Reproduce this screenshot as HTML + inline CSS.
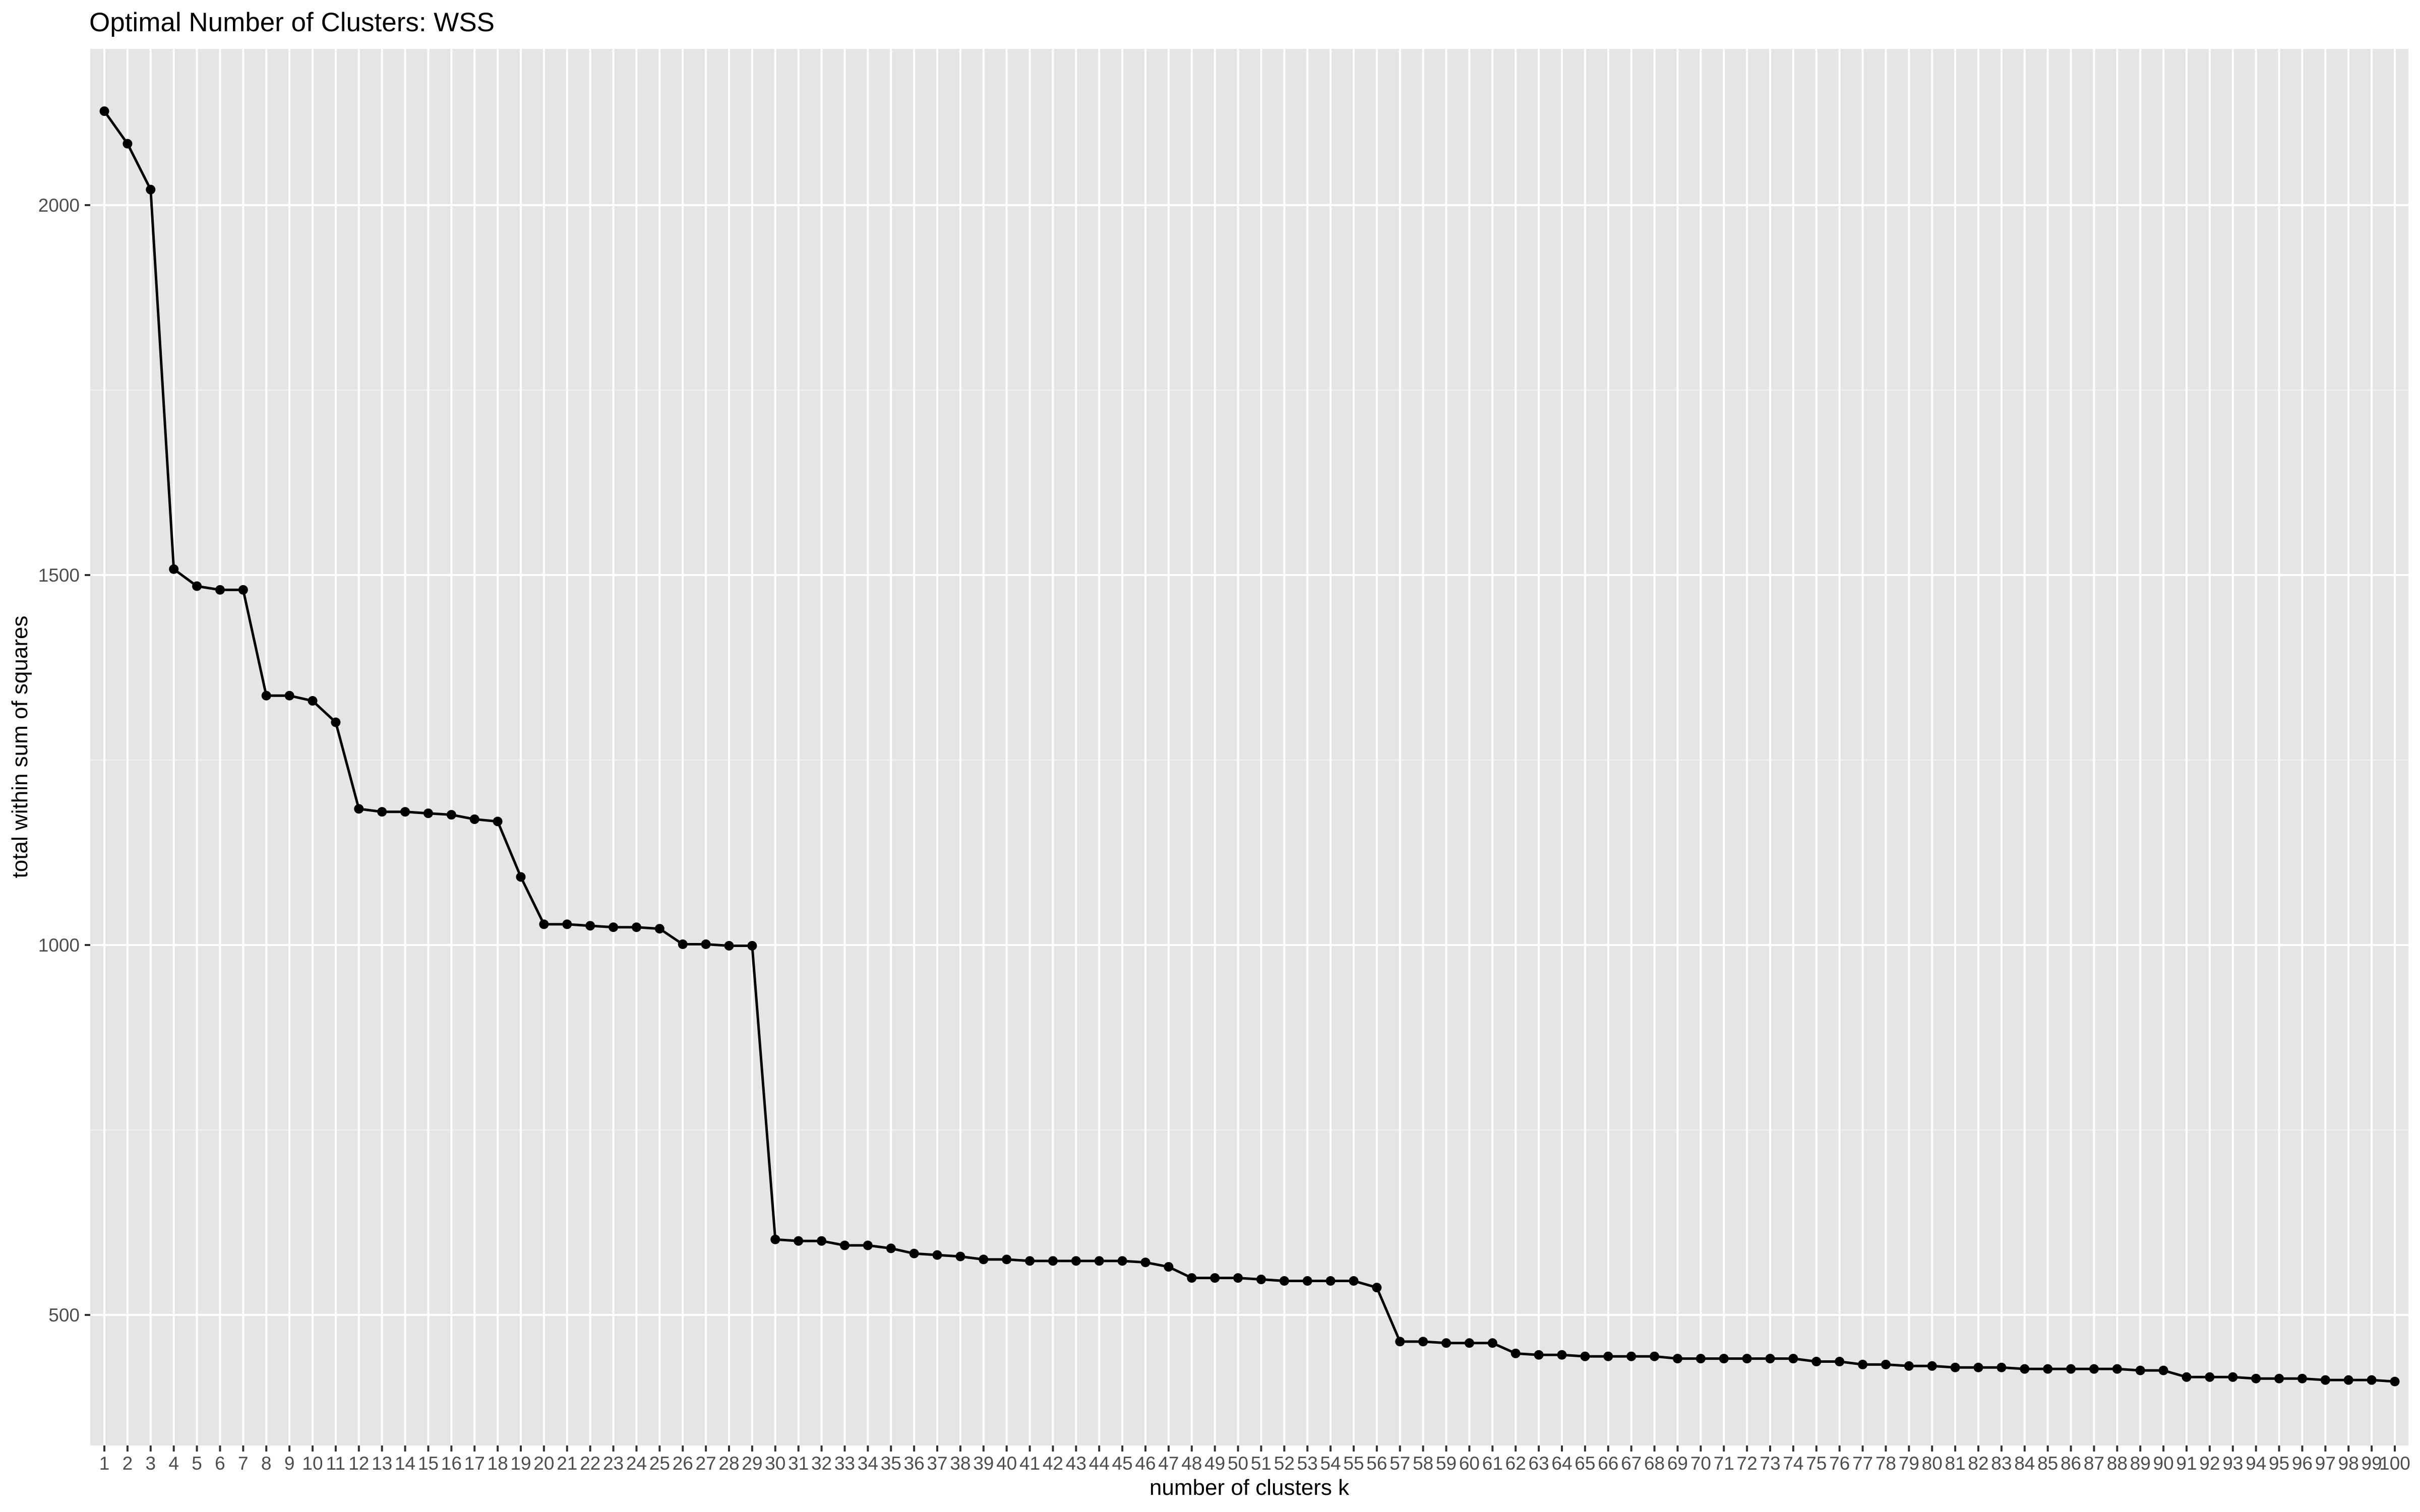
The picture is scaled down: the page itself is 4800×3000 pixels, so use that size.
<!DOCTYPE html>
<html><head><meta charset="utf-8"><style>
html,body{margin:0;padding:0;background:#fff;}
svg{display:block;font-family:"Liberation Sans",Arial,sans-serif;}
</style></head><body>
<svg id="chart" width="4800" height="3000" viewBox="0 0 4800 3000" xmlns="http://www.w3.org/2000/svg">
<rect x="0" y="0" width="4800" height="3000" fill="#fff"/>
<text x="177" y="62" font-size="53" fill="#000">Optimal Number of Clusters: WSS</text>
<g id="panel"></g>
<text x="2478" y="2966" font-size="44" text-anchor="middle" fill="#000">number of clusters k</text>
<text transform="translate(54,1482) rotate(-90)" font-size="44" text-anchor="middle" fill="#000">total within sum of squares</text>
</svg>
<script>
const categories = Array.from({length:100},(_,i)=>i+1);
const wss = [2127,2083,2021,1508,1485,1480,1480,1337,1337,1330,
1301,1184,1180,1180,1178,1176,1170,1167,1092,1028,
1028,1026,1024,1024,1022,1001,1001,999,999,602,
600,600,594,594,590,583,581,579,575,575,
573,573,573,573,573,571,565,550,550,550,
548,546,546,546,546,537,464,464,462,462,
462,448,446,446,444,444,444,444,441,441,
441,441,441,441,437,437,433,433,431,431,
429,429,429,427,427,427,427,427,425,425,
416,416,416,414,414,414,412,412,412,410];
const yTicks = [500,1000,1500,2000];
const yMinor = [750,1250,1750];

const NS="http://www.w3.org/2000/svg";
const L=179,R=4777,T=97,B=2868;
const xS=k=>207+(k-1)*(4750-207)/99;
const yS=v=>407+(2000-v)*(2609-407)/1500;
const g=document.getElementById('panel');
function mk(tag,attrs,parent){const e=document.createElementNS(NS,tag);for(const k in attrs)e.setAttribute(k,attrs[k]);(parent||g).appendChild(e);return e;}

const bg=mk('rect',{x:L,y:T,width:R-L,height:B-T,fill:'#e5e5e5'});



yMinor.forEach(v=>{const l=mk('line',{x1:L,x2:R,y1:yS(v),y2:yS(v),stroke:'#f2f2f2','stroke-width':2});

});
yTicks.forEach(v=>{const l=mk('line',{x1:L,x2:R,y1:yS(v),y2:yS(v),stroke:'#fff','stroke-width':4});


const t=mk('line',{x1:168,x2:L,y1:yS(v),y2:yS(v),stroke:'#333','stroke-width':4});


const tx=mk('text',{x:158,y:yS(v)+13,'font-size':37,'text-anchor':'end',fill:'#4d4d4d'});
tx.textContent=v;

});

categories.forEach(k=>{const x=xS(k);
const l=mk('line',{x1:x,x2:x,y1:T,y2:B,stroke:'#fff','stroke-width':4});


const t=mk('line',{x1:x,x2:x,y1:B,y2:B+12,stroke:'#333','stroke-width':4});


const tx=mk('text',{x:x,y:2916,'font-size':37,'text-anchor':'middle',fill:'#4d4d4d'});
tx.textContent=k;

});

const pts=categories.map((k,i)=>xS(k)+','+yS(wss[i])).join(' ');
const pl=mk('polyline',{points:pts,fill:'none',stroke:'#000','stroke-width':5,'stroke-linejoin':'round'});


categories.forEach((k,i)=>{const c=mk('circle',{cx:xS(k),cy:yS(wss[i]),r:9.5,fill:'#000'});

});
</script>
</body></html>
